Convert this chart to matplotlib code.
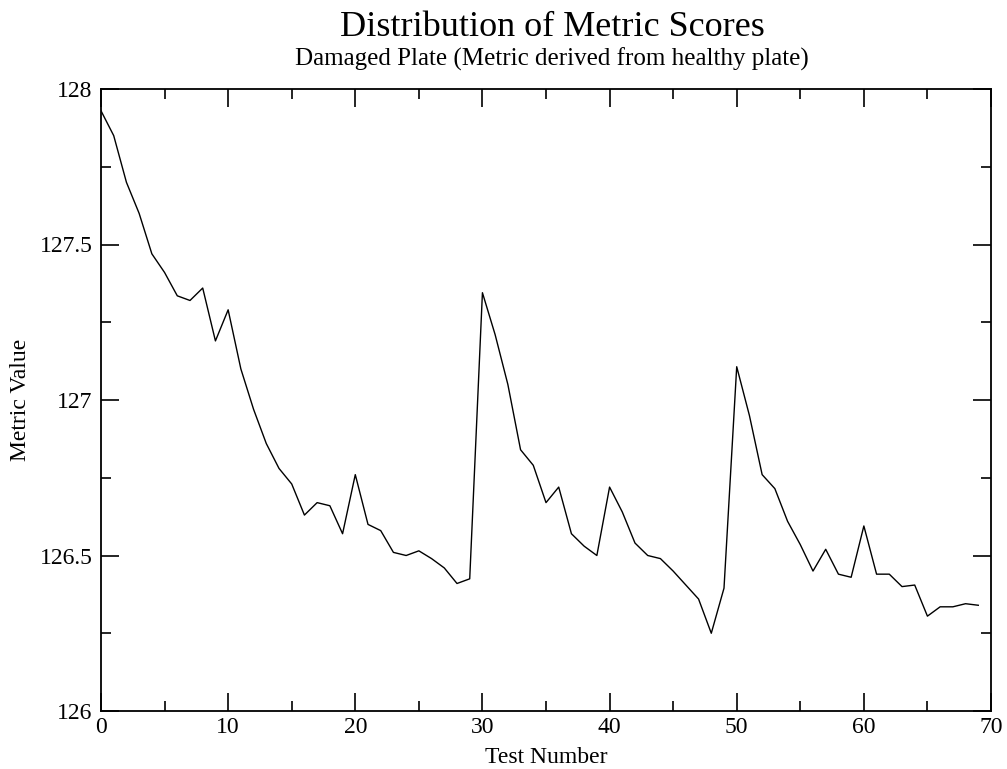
import numpy as np
import matplotlib
matplotlib.use("Agg")
import matplotlib.pyplot as plt
from matplotlib.ticker import MultipleLocator

# values
test_number = np.arange(70)
metric_value = [
    127.93, 127.85, 127.70, 127.60, 127.47, 127.41, 127.335, 127.32, 127.36, 127.19,
    127.29, 127.10, 126.97, 126.86, 126.78, 126.73, 126.63, 126.67, 126.66, 126.57,
    126.76, 126.60, 126.58, 126.51, 126.50, 126.515, 126.49, 126.46, 126.41, 126.425,
    127.345, 127.21, 127.05, 126.84, 126.79, 126.67, 126.72, 126.57, 126.53, 126.50,
    126.72, 126.64, 126.54, 126.50, 126.49, 126.45, 126.405, 126.36, 126.25, 126.395,
    127.107, 126.95, 126.76, 126.715, 126.61, 126.535, 126.45, 126.52, 126.44, 126.43,
    126.595, 126.44, 126.44, 126.40, 126.405, 126.305, 126.335, 126.335, 126.345, 126.34,
]

plt.rcParams['font.family'] = ['Liberation Serif', 'DejaVu Serif']

fig = plt.figure(figsize=(10.07, 7.69), dpi=100)
ax = fig.add_axes([101 / 1007, 1 - 711 / 769, 890 / 1007, 622 / 769])

ax.plot(test_number, metric_value, color='black', linewidth=1.0)

ax.set_xlim(0, 70)
ax.set_ylim(126, 128)
ax.xaxis.set_major_locator(MultipleLocator(10))
ax.xaxis.set_minor_locator(MultipleLocator(5))
ax.yaxis.set_minor_locator(MultipleLocator(0.25))
ax.set_yticks([126, 126.5, 127, 127.5, 128])
ax.set_yticklabels(['126', '126.5', '127', '127.5', '128'])

ax.tick_params(which='both', direction='in', top=True, right=True,
               labelsize=17, width=1.2)
ax.tick_params(axis='x', pad=4)
ax.tick_params(axis='y', pad=6)
ax.tick_params(which='major', length=13)
ax.tick_params(which='minor', length=7)
for s in ax.spines.values():
    s.set_linewidth(1.3)

ax.set_xlabel('Test Number', fontsize=17, va='baseline')
ax.xaxis.set_label_coords(0.5, (711 - 763) / 622)
ax.set_ylabel('Metric Value', fontsize=17, va='center')
ax.yaxis.set_label_coords((21 - 101) / 890, 0.5)

cx = 552 / 1007
fig.text(cx, 1 - 36 / 769, 'Distribution of Metric Scores',
         ha='center', va='baseline', fontsize=26)
fig.text(cx, 1 - 66 / 769, 'Damaged Plate (Metric derived from healthy plate)',
         ha='center', va='baseline', fontsize=18)

fig.savefig('out.png', dpi=100)
